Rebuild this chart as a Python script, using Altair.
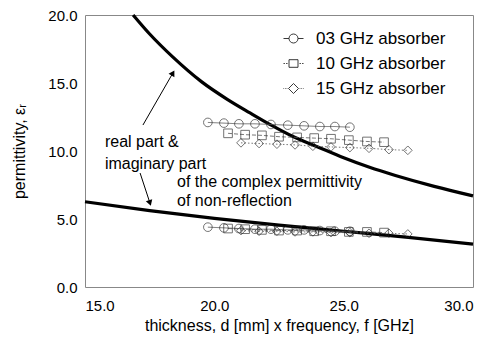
import altair as alt
import pandas as pd

FONT = "Liberation Sans"

# --- theoretical curves ---
real_curve_x = [16.86, 17.5, 18.4, 19.5, 20.5, 21.38, 22.2, 23.0, 24.0, 25.0, 26.0, 27.0, 28.5, 30.0]
real_curve_y = [20.0, 18.6, 16.9, 15.1, 13.8, 12.8, 11.9, 11.1, 10.3, 9.5, 8.8, 8.2, 7.4, 6.7]
imag_curve_x = [15.0, 17.5, 20.0, 22.5, 25.0, 27.5, 30.0]
imag_curve_y = [6.27, 5.62, 5.05, 4.55, 4.1, 3.65, 3.15]

# --- measured absorbers ---
series_names = ["03 GHz absorber", "10 GHz absorber", "15 GHz absorber"]
g03_x = [19.75, 20.37, 20.95, 21.57, 22.19, 22.84, 23.47, 24.08, 24.66, 25.24]
g03_real = [12.1, 12.05, 12.0, 12.0, 11.95, 11.9, 11.85, 11.8, 11.8, 11.75]
g03_imag = [4.4, 4.35, 4.3, 4.25, 4.25, 4.2, 4.2, 4.15, 4.1, 4.1]
g10_x = [20.53, 21.19, 21.84, 22.5, 23.2, 23.86, 24.51, 25.2, 25.9, 26.56]
g10_real = [11.3, 11.2, 11.15, 11.05, 11.0, 10.95, 10.9, 10.8, 10.7, 10.65]
g10_imag = [4.3, 4.25, 4.2, 4.15, 4.15, 4.1, 4.1, 4.05, 4.05, 4.0]
g15_x = [21.03, 21.73, 22.42, 23.12, 23.81, 24.51, 25.24, 25.98, 26.75, 27.48]
g15_real = [10.6, 10.55, 10.5, 10.45, 10.35, 10.3, 10.25, 10.2, 10.1, 10.05]
g15_imag = [4.15, 4.1, 4.1, 4.05, 4.05, 4.0, 4.0, 3.95, 3.95, 3.9]

# --- annotations ---
ann_text = ["real part &", "imaginary part", "of the complex permittivity", "of non-reflection"]
ann_x = [15.77, 15.77, 18.56, 18.56]
ann_y = [10.65, 9.05, 7.75, 6.3]
arrow_x = [17.24, 17.13]
arrow_y = [11.91, 8.38]
arrow_x2 = [18.40, 17.51]
arrow_y2 = [15.74, 6.18]
arrow_angle = [30, 162]

x_ticks = [15, 20, 25, 30]
y_ticks = [0, 5, 10, 15, 20]

# build tables
curve_rows = []
for x, y in zip(real_curve_x, real_curve_y):
    curve_rows.append({"part": "real", "x": x, "y": y})
for x, y in zip(imag_curve_x, imag_curve_y):
    curve_rows.append({"part": "imag", "x": x, "y": y})
curves = pd.DataFrame(curve_rows)

meas_rows = []
for name, xs, re, im in zip(series_names, [g03_x, g10_x, g15_x],
                            [g03_real, g10_real, g15_real],
                            [g03_imag, g10_imag, g15_imag]):
    for x, y in zip(xs, re):
        meas_rows.append({"series": name, "key": name + " real", "x": x, "y": y})
    for x, y in zip(xs, im):
        meas_rows.append({"series": name, "key": name + " imag", "x": x, "y": y})
meas = pd.DataFrame(meas_rows)

ann = pd.DataFrame({"text": ann_text, "x": ann_x, "y": ann_y})
arrows = pd.DataFrame({"x": arrow_x, "y": arrow_y, "x2": arrow_x2, "y2": arrow_y2,
                       "angle": arrow_angle})

xscale = alt.Scale(domain=[15, 30], nice=False, zero=False)
yscale = alt.Scale(domain=[0, 20], nice=False, zero=False)

xaxis = alt.Axis(values=x_ticks, format=".1f", title="thickness, d [mm] x frequency, f [GHz]",
                 grid=False, domain=False, ticks=False, tickSize=0, labelPadding=11,
                 titlePadding=4)
yaxis = alt.Axis(values=y_ticks, format=".1f", title="permittivity, εᵣ",
                 grid=False, domain=False, ticks=False, tickSize=0, labelPadding=8,
                 titlePadding=20)

X = alt.X("x:Q", scale=xscale, axis=xaxis)
Y = alt.Y("y:Q", scale=yscale, axis=yaxis)

curve_layer = alt.Chart(curves).mark_line(color="black", strokeWidth=3.2,
                                          interpolate="monotone").encode(
    x=X, y=Y, detail="part:N", order="x:Q")

dash_scale = alt.Scale(domain=series_names, range=[[1, 0], [4, 2], [1.5, 2]])
meas_lines = alt.Chart(meas).mark_line(color="#555", strokeWidth=0.8).encode(
    x=X, y=Y, detail="key:N",
    strokeDash=alt.StrokeDash("series:N", scale=dash_scale, legend=None))

shape_scale = alt.Scale(domain=series_names, range=["circle", "square", "diamond"])
meas_points = alt.Chart(meas).mark_point(filled=False, color="#222", strokeWidth=0.9,
                                         size=75).encode(
    x=X, y=Y, shape=alt.Shape("series:N", scale=shape_scale, legend=None))

legend_paths = [
    "M-1,0L-0.45,0M0.45,0L1,0M0.45,0A0.45,0.45,0,1,1,-0.45,0A0.45,0.45,0,1,1,0.45,0Z",
    "M-1,0L-0.86,0M-0.74,0L-0.6,0M-0.45,0L-0.45,0M0.6,0L0.74,0M0.86,0L1,0"
    "M-0.45,-0.38L0.45,-0.38L0.45,0.38L-0.45,0.38Z",
    "M-1,0L-0.94,0M-0.84,0L-0.78,0M-0.68,0L-0.62,0M0.62,0L0.68,0M0.78,0L0.84,0M0.94,0L1,0"
    "M-0.5,0L0,-0.5L0.5,0L0,0.5Z",
]
legend_layer = alt.Chart(meas).mark_point(filled=False, color="#222", strokeWidth=0.9,
                                          opacity=0).encode(
    x=X, y=Y,
    shape=alt.Shape("series:N", scale=alt.Scale(domain=series_names, range=legend_paths),
                    legend=alt.Legend(title=None, orient="none", legendX=198, legendY=13,
                                      symbolSize=400, symbolOpacity=1,
                                      symbolStrokeColor="#222", symbolStrokeWidth=0.9,
                                      labelFont=FONT, labelFontSize=17, labelColor="black",
                                      labelOffset=12, rowPadding=6, padding=0)))

text_layer = alt.Chart(ann).mark_text(align="left", baseline="middle", font=FONT,
                                      fontSize=16, color="black").encode(
    x=X, y=Y, text="text:N")

arrow_lines = alt.Chart(arrows).mark_rule(color="black", strokeWidth=1).encode(
    x=X, y=Y, x2="x2:Q", y2="y2:Q")
arrow_heads = alt.Chart(arrows).mark_point(shape="triangle-up", filled=True, color="black",
                                           size=45, opacity=1).encode(
    x=alt.X("x2:Q", scale=xscale, axis=xaxis), y=alt.Y("y2:Q", scale=yscale, axis=yaxis),
    angle=alt.Angle("angle:Q", scale=None))

chart = alt.layer(curve_layer, meas_lines, meas_points, legend_layer, text_layer,
                  arrow_lines, arrow_heads).resolve_scale(
    shape="independent").properties(
    width=388, height=272,
    autosize=alt.AutoSizeParams(type="none"),
    padding={"left": 85, "top": 15, "right": 26, "bottom": 52},
    background="white",
).configure_view(stroke="#888", strokeWidth=1).configure_axis(
    labelFont=FONT, labelFontSize=15, labelColor="black",
    titleFont=FONT, titleFontSize=16, titleColor="black", titleFontWeight="normal")

chart.save("out.html", embed_options={"renderer": "svg", "actions": False})
